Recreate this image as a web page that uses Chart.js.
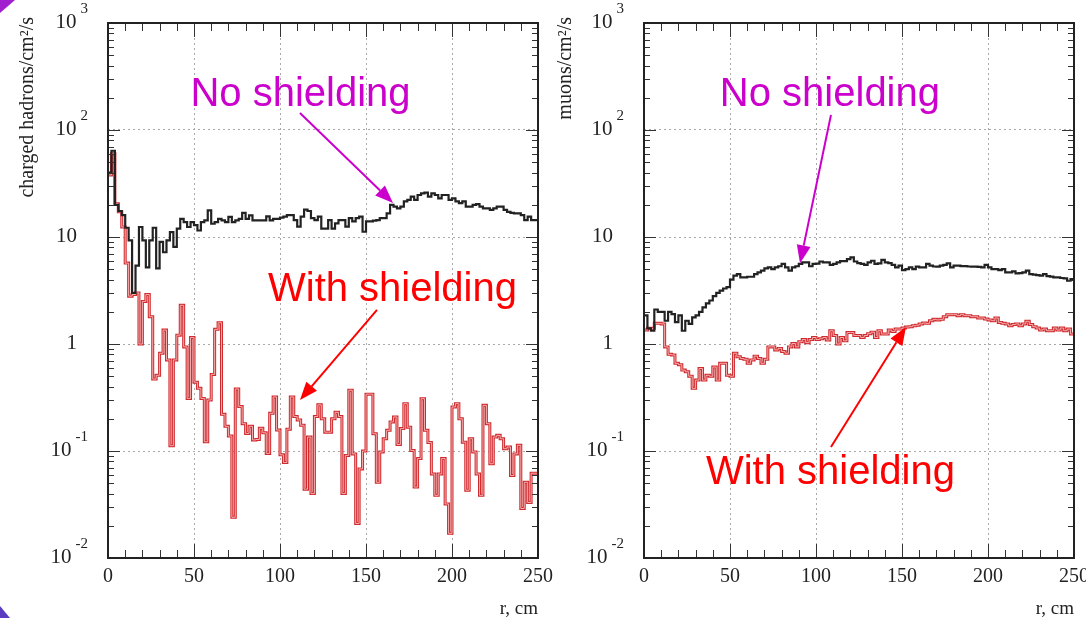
<!DOCTYPE html>
<html>
<head>
<meta charset="utf-8">
<script src="https://cdn.jsdelivr.net/npm/chart.js@4.4.0/dist/chart.umd.min.js"></script>
<style>
  html, body { margin: 0; padding: 0; background: #fff; }
  #wrap { position: relative; width: 1086px; height: 618px; overflow: hidden; background: #fff; }
  .panel { position: absolute; top: 0; height: 618px; }
  #left { left: 0; width: 560px; }
  #right { left: 543px; width: 543px; }
  .corner { position: absolute; left: 0; }
  #cornerTop { top: 0; width: 15px; height: 13px; background: #a21fd0; clip-path: polygon(0 0, 100% 0, 0 100%); }
  #cornerBottom { bottom: 0; width: 10px; height: 12px; background: #5a3cc0; clip-path: polygon(0 0, 100% 100%, 0 100%); }
</style>
</head>
<body>
<div id="wrap">
  <div class="panel" id="left"><canvas id="hadrons" width="560" height="618"></canvas></div>
  <div class="panel" id="right"><canvas id="muons" width="543" height="618"></canvas></div>
  <div class="corner" id="cornerTop"></div>
  <div class="corner" id="cornerBottom"></div>
</div>
<script>
// Histograms: 125 bins of 2 cm over r = 0..250 cm
const BIN_W = 2;
const binLo = Array.from({ length: 125 }, (_, i) => i * BIN_W);

// charged hadrons/cm^2/s
const hadronsNoShield = [
  40, 64, 20, 17.5, 16, 12.2, 9.3, 3.0, 5.4, 12.4,
  9.3, 5.2, 9.3, 12.2, 5.1, 9.0, 7.2, 9.3, 11.1, 8.1,
  12.0, 14.8, 13.8, 12.4, 13.8, 12.9, 11.5, 13.8, 14.3, 17.7,
  13.3, 13.8, 14.8, 14.3, 13.8, 15.4, 13.8, 14.3, 14.8, 16.8,
  14.8, 15.9, 14.3, 14.3, 14.3, 14.3, 15.6, 14.3, 14.8, 14.8,
  15.2, 15.5, 16, 16, 14.4, 12.5, 15.5, 18, 17.5, 15,
  14.4, 15.5, 12, 12, 14.4, 12, 13.4, 14.4, 14.4, 12.5,
  15, 14, 15, 15.5, 11.2, 14, 14, 14.2, 14.4, 15,
  15, 16.6, 20, 19.2, 18.5, 19.2, 21.5, 22.2, 23.8, 22.2,
  24.7, 25.6, 26, 23.8, 25.6, 24.7, 23, 24.7, 24.7, 22.2,
  23, 21.5, 20.7, 21.5, 19.2, 19.2, 20, 20.3, 19.2, 18.5,
  18.5, 17.9, 18.5, 19.2, 19.2, 17.9, 17.2, 16.8, 16.6, 16.6,
  16, 14.4, 15.5, 14.4, 14.4
];
const hadronsShield = [
  38, 60, 20.5, 17.2, 12.4, 5.7, 2.8, 2.9, 3.0, 1.0,
  2.5, 2.9, 1.8, 0.47, 0.51, 0.82, 1.35, 0.71, 0.112, 0.71,
  1.21, 2.3, 0.94, 0.31, 1.15, 0.44, 0.385, 0.31, 0.122, 0.30,
  0.52, 1.37, 1.58, 0.22, 0.17, 0.138, 0.024, 0.38, 0.26, 0.18,
  0.146, 0.17, 0.127, 0.128, 0.163, 0.148, 0.095, 0.225, 0.32, 0.157,
  0.092, 0.078, 0.16, 0.32, 0.21, 0.195, 0.174, 0.044, 0.135, 0.04,
  0.21, 0.27, 0.2, 0.15, 0.15, 0.20, 0.23, 0.21, 0.040, 0.091,
  0.37, 0.094, 0.021, 0.068, 0.10, 0.34, 0.34, 0.145, 0.051, 0.098,
  0.13, 0.156, 0.187, 0.208, 0.115, 0.162, 0.277, 0.167, 0.101, 0.046,
  0.085, 0.308, 0.156, 0.12, 0.061, 0.0385, 0.061, 0.085, 0.032, 0.017,
  0.258, 0.277, 0.20, 0.121, 0.043, 0.13, 0.098, 0.061, 0.0385, 0.267,
  0.18, 0.076, 0.135, 0.14, 0.13, 0.105, 0.109, 0.059, 0.094, 0.113,
  0.029, 0.051, 0.033, 0.062, 0.062
];

// muons/cm^2/s
const muonsNoShield = [
  1.85, 1.4, 1.33, 2.1, 2.0, 2.0, 1.65, 2.0, 1.9, 1.6,
  1.85, 1.33, 1.65, 1.54, 1.77, 1.85, 2.0, 2.2, 2.4, 2.55,
  2.8, 3.0, 3.15, 3.3, 3.4, 4.0, 4.35, 4.5, 4.2, 4.2,
  4.25, 4.25, 4.5, 4.68, 4.85, 5.1, 5.2, 5.0, 5.2, 5.33,
  5.6, 5.2, 4.85, 5.2, 5.33, 5.6, 5.8, 5.8, 5.33, 5.6,
  5.65, 5.9, 5.8, 5.8, 5.5, 5.6, 5.8, 5.95, 5.95, 6.2,
  6.45, 5.9, 5.7, 5.6, 5.5, 5.8, 6.0, 5.6, 5.66, 6.1,
  5.8, 5.7, 5.5, 5.2, 5.4, 4.9, 5.0, 5.2, 5.0, 5.28,
  5.2, 5.2, 5.6, 5.4, 5.3, 5.28, 5.4, 5.5, 5.66, 5.2,
  5.4, 5.4, 5.35, 5.35, 5.3, 5.28, 5.28, 5.25, 5.2, 5.5,
  5.2, 5.0, 5.0, 4.9, 5.0, 4.68, 4.68, 4.77, 4.57, 4.6,
  4.68, 4.85, 4.5, 4.45, 4.4, 4.35, 4.5, 4.3, 4.26, 4.2,
  4.2, 4.14, 4.1, 3.9, 4.05
];
const muonsShield = [
  1.35, 1.4, 1.4, 1.56, 1.56, 1.54, 0.94, 0.8, 0.79, 0.66,
  0.64, 0.57, 0.55, 0.50, 0.385, 0.46, 0.59, 0.46, 0.51, 0.50,
  0.61, 0.46, 0.66, 0.66, 0.51, 0.50, 0.82, 0.76, 0.73, 0.72,
  0.66, 0.71, 0.77, 0.73, 0.66, 0.72, 0.94, 0.94, 0.88, 0.91,
  0.85, 0.82, 0.94, 1.01, 0.94, 1.05, 1.1, 1.03, 1.1, 1.15,
  1.1, 1.12, 1.15, 1.09, 1.33, 1.2, 1.0, 1.15, 1.07, 1.28,
  1.28, 1.2, 1.2, 1.15, 1.2, 1.25, 1.29, 1.15, 1.33, 1.24,
  1.24, 1.35, 1.31, 1.38, 1.38, 1.41, 1.44, 1.45, 1.48, 1.5,
  1.54, 1.57, 1.56, 1.65, 1.7, 1.68, 1.7, 1.8, 1.88, 1.88,
  1.88, 1.84, 1.88, 1.84, 1.84, 1.80, 1.80, 1.75, 1.75, 1.71,
  1.68, 1.65, 1.75, 1.59, 1.56, 1.54, 1.48, 1.52, 1.54, 1.48,
  1.54, 1.63, 1.52, 1.45, 1.41, 1.35, 1.38, 1.33, 1.33, 1.41,
  1.35, 1.41, 1.33, 1.38, 1.24
];

// axes
const xTickVals = [0, 50, 100, 150, 200, 250];
const yDecades = [0.01, 0.1, 1, 10, 100, 1000];
const yDecadeLabels = [['10', '-2'], ['10', '-1'], ['1', ''], ['10', ''], ['10', '2'], ['10', '3']];

const SERIF = '"Liberation Serif", "Times New Roman", serif';
const SANS = '"Liberation Sans", Arial, sans-serif';
const MAGENTA = '#cc00cc';
const RED = '#ff0000';

/** Histogram points: left bin edges plus closing edge, drawn as steps. */
function toPoints(vals) {
  const pts = vals.map((v, i) => ({ x: binLo[i], y: v }));
  pts.push({ x: binLo[vals.length - 1] + BIN_W, y: vals[vals.length - 1] });
  return pts;
}

function hist(vals, color, width, order) {
  return {
    data: toPoints(vals), borderColor: color, borderWidth: width, order,
    stepped: 'before', pointRadius: 0, fill: false, borderJoinStyle: 'miter',
  };
}

function drawArrow(ctx, x0, y0, x1, y1, color) {
  const ang = Math.atan2(y1 - y0, x1 - x0);
  const head = 18, half = 7;
  const bx = x1 - head * Math.cos(ang), by = y1 - head * Math.sin(ang);
  ctx.strokeStyle = color; ctx.fillStyle = color; ctx.lineWidth = 2;
  ctx.beginPath(); ctx.moveTo(x0, y0); ctx.lineTo(bx, by); ctx.stroke();
  ctx.beginPath(); ctx.moveTo(x1, y1);
  ctx.lineTo(bx + half * Math.sin(ang), by - half * Math.cos(ang));
  ctx.lineTo(bx - half * Math.sin(ang), by + half * Math.cos(ang));
  ctx.closePath(); ctx.fill();
}

/** Frame, ROOT-style ticks, tick labels, titles and the annotations. */
const panelDecor = {
  id: 'panelDecor',
  afterDraw(chart, args, opts) {
    const { ctx, chartArea: a, scales: { x, y } } = chart;
    ctx.save();
    ctx.strokeStyle = '#333'; ctx.lineWidth = 1;
    ctx.beginPath();
    // y ticks (left and right, inward)
    for (let e = -2; e <= 2; e++) {
      for (let m = 1; m <= 9; m++) {
        const py = Math.round(y.getPixelForValue(m * Math.pow(10, e))) + 0.5;
        const len = m === 1 ? 12 : 6;
        ctx.moveTo(a.left, py); ctx.lineTo(a.left + len, py);
        ctx.moveTo(a.right, py); ctx.lineTo(a.right - len, py);
      }
    }
    // x ticks every 10 cm (bottom and top, inward)
    for (let v = 10; v < 250; v += 10) {
      const px = Math.round(x.getPixelForValue(v)) + 0.5;
      const len = v % 50 === 0 ? 14 : 8;
      ctx.moveTo(px, a.bottom); ctx.lineTo(px, a.bottom - len);
      ctx.moveTo(px, a.top); ctx.lineTo(px, a.top + len);
    }
    ctx.stroke();

    // frame
    ctx.strokeStyle = '#222'; ctx.lineWidth = 2;
    ctx.strokeRect(a.left, a.top, a.right - a.left, a.bottom - a.top);

    // y tick labels
    ctx.fillStyle = '#222';
    ctx.textBaseline = 'middle';
    ctx.textAlign = 'right';
    yDecades.forEach((v, i) => {
      const [base, exp] = yDecadeLabels[i];
      const py = y.getPixelForValue(v);
      if (exp) {
        ctx.font = `15px ${SERIF}`;
        ctx.fillText(exp, a.left - 20, py - 14);
        const ew = ctx.measureText(exp).width;
        ctx.font = `21px ${SERIF}`;
        ctx.fillText(base, a.left - 24 - ew, py - 1);
      } else {
        ctx.font = `21px ${SERIF}`;
        ctx.fillText(base, a.left - 31, py - 1);
      }
    });

    // x tick labels
    ctx.font = `20px ${SERIF}`;
    ctx.textAlign = 'center';
    xTickVals.forEach(v => ctx.fillText(String(v), x.getPixelForValue(v), a.bottom + 19));
    ctx.textAlign = 'right';
    ctx.font = `19px ${SERIF}`;
    ctx.fillText('r, cm', a.right, a.bottom + 51);

    // y title, rotated, flush with the top
    ctx.save();
    ctx.translate(opts.titleX, a.top - 6);
    ctx.rotate(-Math.PI / 2);
    ctx.font = `20px ${SERIF}`;
    ctx.textAlign = 'right';
    ctx.fillText(opts.title, 0, 0);
    ctx.restore();

    // annotations
    opts.notes.forEach(n => {
      ctx.font = `40px ${SANS}`;
      ctx.textAlign = 'center';
      ctx.textBaseline = 'alphabetic';
      ctx.fillStyle = n.color;
      ctx.fillText(n.text, x.getPixelForValue(n.at[0]), y.getPixelForValue(n.at[1]));
      drawArrow(ctx,
        x.getPixelForValue(n.from[0]), y.getPixelForValue(n.from[1]),
        x.getPixelForValue(n.to[0]), y.getPixelForValue(n.to[1]), n.color);
    });
    ctx.restore();
  },
};

function makePanel(id, noShield, shield, pad, title, titleX, notes) {
  const gridOpts = { color: '#aaa', lineWidth: 1, drawTicks: false };
  return new Chart(document.getElementById(id), {
    type: 'line',
    data: {
      datasets: [
        hist(noShield, '#222', 2.2, 0),
        hist(shield, '#f6b0b0', 1.0, 1),
        hist(shield, '#cf2a2e', 3.0, 2),
      ],
    },
    options: {
      responsive: false, animation: false, events: [],
      layout: { padding: pad },
      plugins: { legend: { display: false }, tooltip: { enabled: false }, panelDecor: { title, titleX, notes } },
      scales: {
        x: {
          type: 'linear', min: 0, max: 250,
          afterBuildTicks: s => { s.ticks = xTickVals.slice(1, -1).map(v => ({ value: v })); },
          ticks: { display: false }, grid: gridOpts, border: { display: false, dash: [2, 3] },
        },
        y: {
          type: 'logarithmic', min: 0.01, max: 1000,
          afterBuildTicks: s => { s.ticks = yDecades.slice(1, -1).map(v => ({ value: v })); },
          ticks: { display: false }, grid: gridOpts, border: { display: false, dash: [2, 3] },
        },
      },
    },
    plugins: [panelDecor],
  });
}

makePanel('hadrons', hadronsNoShield, hadronsShield,
  { left: 108, top: 23, right: 22, bottom: 60 },
  'charged hadrons/cm²/s', 28, [
    { text: 'No shielding', color: MAGENTA, at: [111.9, 168], from: [111.6, 144], to: [165.7, 20.8] },
    { text: 'With shielding', color: RED, at: [165.4, 2.52], from: [156.4, 2.08], to: [111.6, 0.30] },
  ]);

makePanel('muons', muonsNoShield, muonsShield,
  { left: 101, top: 23, right: 12, bottom: 60 },
  'muons/cm²/s', 23, [
    { text: 'No shielding', color: MAGENTA, at: [108.1, 168], from: [108.7, 138], to: [90.7, 5.68] },
    { text: 'With shielding', color: RED, at: [108.4, 0.0492], from: [108.7, 0.109], to: [152.3, 1.44] },
  ]);
</script>
</body>
</html>
